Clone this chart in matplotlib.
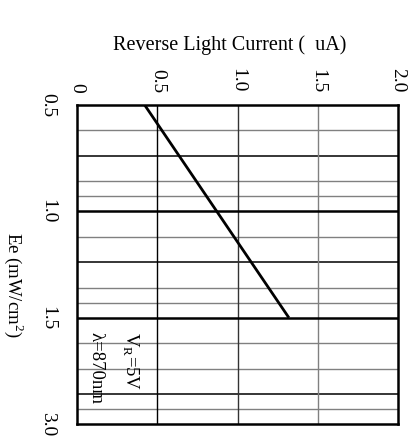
import numpy as np
import matplotlib
matplotlib.use('Agg')
import matplotlib.pyplot as plt

plt.rcParams['font.family'] = ['Liberation Serif', 'DejaVu Serif']
plt.rcParams['mathtext.fontset'] = 'custom'
plt.rcParams['mathtext.rm'] = 'Liberation Serif'

# Irradiance ticks (unevenly spaced on the chart, one block per step)
ee_ticks = [0.5, 1.0, 1.5, 3.0]
current_ticks = [0, 0.5, 1.0, 1.5, 2.0]
current_labels = ['0', '0.5', '1.0', '1.5', '2.0']

# Reverse light current vs irradiance
ee = [0.5, 1.5]
current = [0.42, 1.32]

# Minor grid lines inside each block, as fraction of the block
minor_frac = [0.24, 0.48, 0.72, 0.86]
dark_minor = {(0, 0.48), (1, 0.48), (2, 0.72)}

idx = np.arange(len(ee_ticks), dtype=float)


def fwd(v):
    return np.interp(v, ee_ticks, idx)


def inv(p):
    return np.interp(p, idx, ee_ticks)


fig = plt.figure(figsize=(4.14, 4.41), dpi=100)
ax = fig.add_axes([0.186, 0.038, 0.7754, 0.7247])
ax.set_yscale('function', functions=(fwd, inv))
ax.set_xlim(0, 2.0)
ax.set_ylim(3.0, 0.5)

# horizontal grid
for b in range(len(ee_ticks) - 1):
    for f in minor_frac:
        dark = (b, f) in dark_minor
        ax.axhline(inv(b + f), color='black' if dark else '#808080',
                   lw=1.1 if dark else 1.0, zorder=1)
for v in ee_ticks[1:-1]:
    ax.axhline(v, color='black', lw=1.8, zorder=2)

# vertical grid
ax.axvline(0.5, color='black', lw=1.0, zorder=1)
ax.axvline(1.0, color='#333333', lw=1.0, zorder=1)
ax.axvline(1.5, color='#808080', lw=1.0, zorder=1)

ax.plot(current, ee, color='black', lw=2.0, solid_capstyle='butt', zorder=3)

for s in ax.spines.values():
    s.set_linewidth(1.8)

ax.xaxis.tick_top()
ax.set_xticks(current_ticks)
ax.set_xticklabels(current_labels, rotation=-90, fontsize=14)
ax.set_yticks(ee_ticks)
ax.set_yticklabels(['0.5', '1.0', '1.5', '3.0'], rotation=-90, fontsize=14, va='center')
ax.yaxis.set_minor_locator(matplotlib.ticker.NullLocator())
ax.tick_params(axis='x', length=0, pad=8.5)
ax.tick_params(axis='y', length=0, pad=15)

ax.text(0.165, 0.288, r'V$_{\mathrm{R}}$=5V', rotation=-90, fontsize=13.5,
        ha='center', va='top', transform=ax.transAxes)
ax.text(0.059, 0.29, 'λ=870nm', rotation=-90, fontsize=13.5,
        ha='center', va='top', transform=ax.transAxes)

fig.text(230 / 414, 1 - 45 / 441, 'Reverse Light Current (  uA)',
         ha='center', va='center', fontsize=14.5)
fig.text(14 / 414, 1 - 285 / 441, r'Ee (mW/cm$^{2}$)', rotation=-90,
         ha='center', va='center', fontsize=13.5)

fig.savefig('out.png', dpi=100)
